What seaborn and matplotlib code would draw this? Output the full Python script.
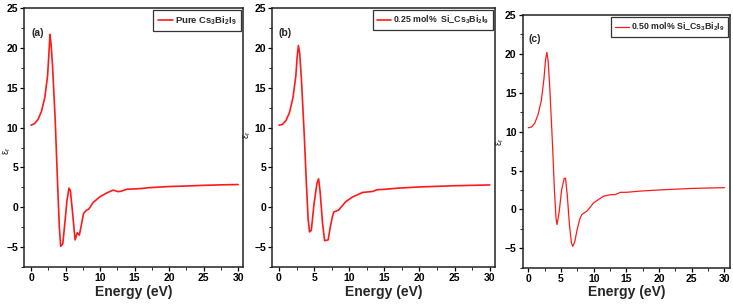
import matplotlib
matplotlib.use("Agg")
import matplotlib.pyplot as plt
from matplotlib import font_manager
from matplotlib.ticker import MultipleLocator
import seaborn as sns
import pandas as pd

# ---------------- data ----------------
energy_a = [0, 0.5, 1.0, 1.5, 2.0, 2.4, 2.6, 2.75, 2.9, 3.1, 3.5, 3.8, 4.1, 4.3, 4.6, 4.9, 5.2, 5.5, 5.7,
            6.0, 6.38, 6.7, 7.0, 7.3, 7.6, 8.0, 8.4, 9.0, 10.0, 11.0, 11.9, 12.6, 13.0, 13.9, 15, 16, 17,
            18, 20, 22, 25, 28, 30]
eps_a = [10.3, 10.5, 11.0, 12.0, 13.8, 16.5, 19.5, 21.7, 20.5, 18.0, 11.0, 4.0, -2.5, -4.9, -4.6, -2.0,
         0.8, 2.4, 2.1, -0.5, -4.1, -3.2, -3.5, -2.2, -0.8, -0.4, -0.2, 0.6, 1.33, 1.8, 2.15, 1.96, 2.0,
         2.26, 2.3, 2.35, 2.45, 2.5, 2.6, 2.65, 2.75, 2.82, 2.85]

energy_b = [0, 0.5, 1.0, 1.5, 2.0, 2.4, 2.6, 2.77, 2.95, 3.2, 3.6, 3.9, 4.15, 4.35, 4.6, 5.0, 5.4, 5.64,
            5.85, 6.2, 6.5, 7.0, 7.3, 7.6, 7.8, 8.5, 9.5, 10.5, 11.9, 13.3, 14, 15, 17, 20, 25, 30]
eps_b = [10.3, 10.4, 10.9, 11.9, 13.8, 16.5, 19.0, 20.3, 19.3, 16.0, 9.0, 3.0, -1.5, -3.1, -2.9, 0.5,
         3.0, 3.57, 2.0, -2.0, -4.2, -4.1, -2.5, -1.2, -0.6, -0.35, 0.7, 1.3, 1.86, 1.98, 2.2, 2.25, 2.4,
         2.55, 2.7, 2.8]

energy_c = [0, 0.5, 1.0, 1.5, 2.0, 2.4, 2.65, 2.85, 3.05, 3.3, 3.7, 4.0, 4.25, 4.4, 4.7, 5.1, 5.5, 5.7,
            5.95, 6.3, 6.6, 6.8, 7.1, 7.5, 7.9, 8.2, 9.0, 10, 11.5, 12.6, 13.3, 14.1, 15, 17, 20, 25, 30]
eps_c = [10.5, 10.6, 11.1, 12.2, 14.0, 16.8, 19.3, 20.2, 19.0, 15.5, 8.5, 2.5, -1.2, -1.95, -0.5, 2.5,
         4.0, 4.0, 2.0, -2.0, -4.3, -4.75, -4.2, -2.5, -1.2, -0.65, -0.2, 0.85, 1.7, 1.9, 1.9, 2.2, 2.2,
         2.35, 2.5, 2.7, 2.8]

labels = ["Pure Cs$_3$Bi$_2$I$_9$",
          "0.25 mol%  Si_Cs$_3$Bi$_2$I$_9$",
          "0.50 mol% Si_Cs$_3$Bi$_2$I$_9$"]
panel_tags = ["(a)", "(b)", "(c)"]
x_label = "Energy (eV)"
y_label = "ε$_r$"

# ---------------- style ----------------
sns.set_style("ticks")
names = {f.name for f in font_manager.fontManager.ttflist}
fam = "Liberation Sans Narrow" if "Liberation Sans Narrow" in names else "Liberation Sans"
plt.rcParams["font.family"] = [fam, "DejaVu Sans"]
plt.rcParams["mathtext.fontset"] = "custom"
plt.rcParams["mathtext.rm"] = fam
plt.rcParams["mathtext.default"] = "regular"

fig = plt.figure(figsize=(7.33, 3.06), dpi=100)
rects = [
    [0.0334, 0.1275, 0.298, 0.846],
    [0.3715, 0.1275, 0.3038, 0.846],
    [0.7131, 0.125, 0.2828, 0.826],
]
xlims = [(-0.95, 30.7), (-0.95, 30.75), (-0.85, 30.85)]
datasets = [(energy_a, eps_a), (energy_b, eps_b), (energy_c, eps_c)]
lws = [1.2, 1.2, 0.9]
leg_fs = [6.8, 6.3, 6.3]
ylab_pos = [(-0.052, 0.45), (-0.088, 0.51), (-0.082, 0.5)]

for i, (rect, (ex, ey)) in enumerate(zip(rects, datasets)):
    ax = fig.add_axes(rect)
    df = pd.DataFrame({"Energy": ex, "eps": ey})
    sns.lineplot(data=df, x="Energy", y="eps", ax=ax, color="#ff1a1a", lw=lws[i],
                 label=labels[i], sort=False)
    ax.set_xlim(*xlims[i])
    ax.set_ylim(-7.5, 25)
    ax.xaxis.set_major_locator(MultipleLocator(5))
    ax.yaxis.set_major_locator(MultipleLocator(5))
    ax.xaxis.set_minor_locator(MultipleLocator(2.5))
    ax.yaxis.set_minor_locator(MultipleLocator(2.5))
    ax.tick_params(which="major", direction="out", length=3, width=0.9, labelsize=7.5, pad=1.5,
                   colors="black")
    ax.tick_params(which="minor", direction="out", length=2, width=0.7)
    for lab in ax.get_xticklabels() + ax.get_yticklabels():
        lab.set_fontweight("bold")
    for sp in ax.spines.values():
        sp.set_visible(True)
        sp.set_linewidth(1.1)
        sp.set_color("#222222")
    ax.set_xlabel(x_label, fontsize=10, fontweight="bold", labelpad=1)
    ax.set_ylabel(y_label, fontsize=7)
    ax.yaxis.set_label_coords(*ylab_pos[i])
    ax.text(0.03, 0.905, panel_tags[i], transform=ax.transAxes, fontsize=7.5, fontweight="bold",
            ha="left", va="center")
    leg = ax.legend(loc="upper right", fontsize=leg_fs[i], frameon=True, fancybox=False,
                    edgecolor="#333333", framealpha=1, borderaxespad=0.2, handlelength=1.6,
                    handletextpad=0.25, borderpad=0.45)
    leg.get_frame().set_linewidth(0.9)
    for t in leg.get_texts():
        t.set_fontweight("bold")

fig.savefig("out.png", dpi=100)
